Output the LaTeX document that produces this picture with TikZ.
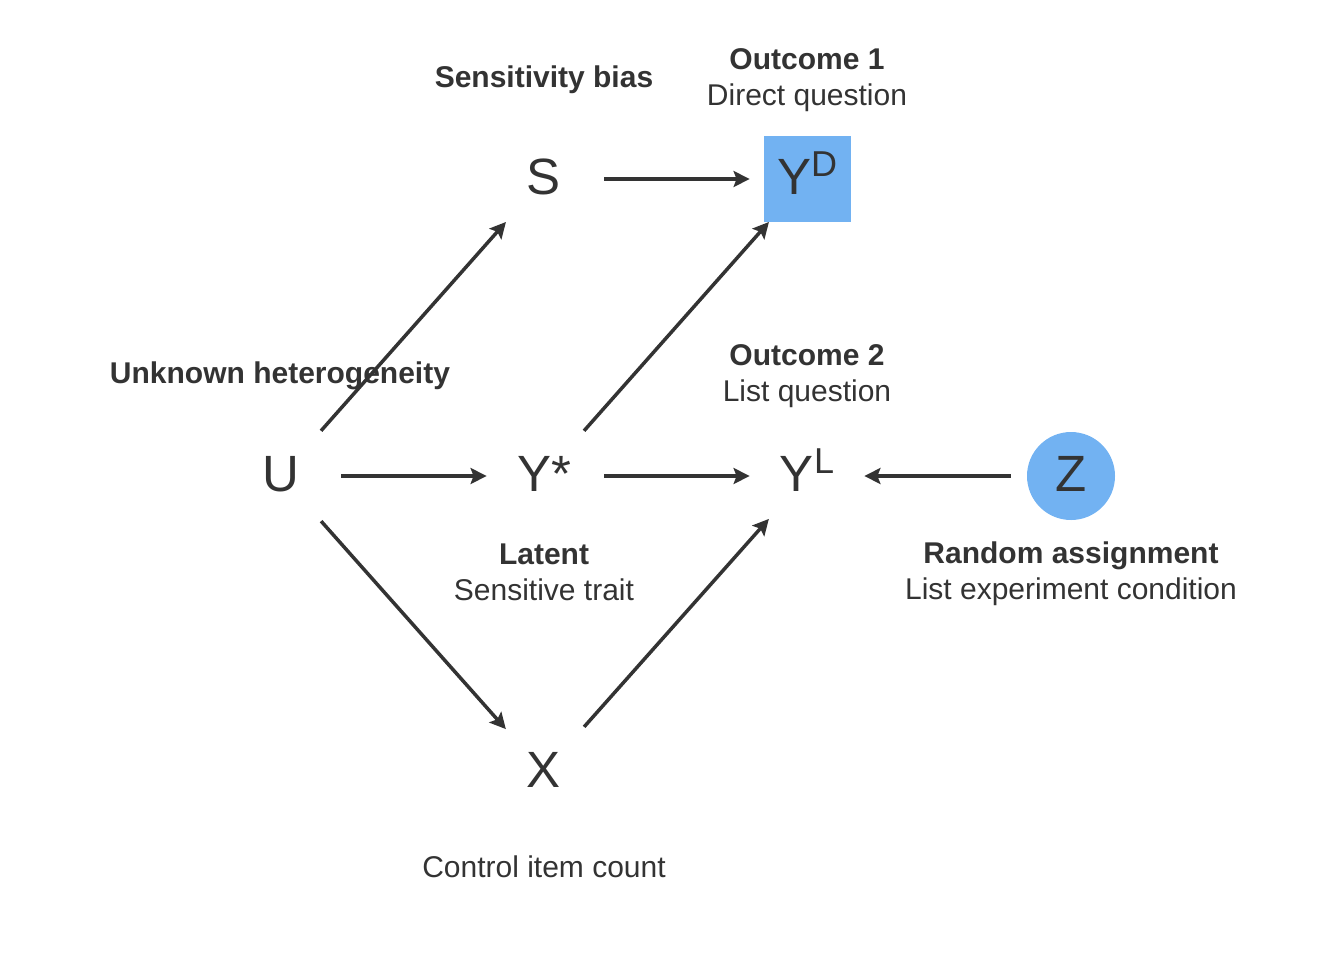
\documentclass[tikz,border=0pt]{standalone}
\usepackage{fontspec}
\setmainfont{Liberation Sans}
\usetikzlibrary{arrows.meta}
\definecolor{ink}{HTML}{333333}
\definecolor{fillblue}{HTML}{72B2F2}
\newcommand{\upidx}[1]{\smash{\raisebox{9pt}{\fontsize{18}{18}\selectfont #1}}}
\begin{document}
\begin{tikzpicture}[x=0.5pt,y=-0.5pt,
  var/.style={circle,minimum size=60pt,inner sep=0pt,text height=18pt,text depth=3pt,text=ink,font=\fontsize{25.5}{30}\selectfont},
  lbl/.style={align=center,text=ink,font=\fontsize{15}{18}\selectfont},
  arr/.style={draw=ink,line width=1.75pt,shorten >=-1.5pt,-{Stealth[length=8pt,width=8pt,inset=1.5pt]}}]
\useasboundingbox (0,0) rectangle (1344,960);
\node[fill=fillblue,minimum width=43.5pt,minimum height=43pt,inner sep=0pt] (YDbox) at (807,179) {};
\node[circle,fill=fillblue,minimum size=44pt,inner sep=0pt] (Zdot) at (1071,476) {};
\node[var] (S) at (544,179) {S};
\node[var] (YD) at (807,179) {Y\upidx{D}};
\node[var] (U) at (281,476) {U};
\node[var] (Ystar) at (544,476) {Y*};
\node[var] (YL) at (807,476) {Y\upidx{L}};
\node[var] (Z) at (1071,476) {Z};
\node[var] (X) at (544,772) {X};
\node[lbl] (Slbl) at (544,80) {\textbf{Sensitivity bias}};
\node[lbl] (YDlbl) at (807,80) {\textbf{Outcome 1}\\Direct question};
\node[lbl] (Ulbl) at (280,376) {\textbf{Unknown heterogeneity}};
\node[lbl] (YLlbl) at (807,376) {\textbf{Outcome 2}\\List question};
\node[lbl] (Ystarlbl) at (544,572) {\textbf{Latent}\\Sensitive trait};
\node[lbl] (Zlbl) at (1071,574) {\textbf{Random assignment}\\List experiment condition};
\node[lbl] (Xlbl) at (544,867) {Control item count};
% edges
\path[arr] (S) -- (YD);
\path[arr] (U) -- (S);
\path[arr] (Ystar) -- (YD);
\path[arr] (U) -- (Ystar);
\path[arr] (Ystar) -- (YL);
\path[arr] (Z) -- (YL);
\path[arr] (U) -- (X);
\path[arr] (X) -- (YL);
\end{tikzpicture}
\end{document}
